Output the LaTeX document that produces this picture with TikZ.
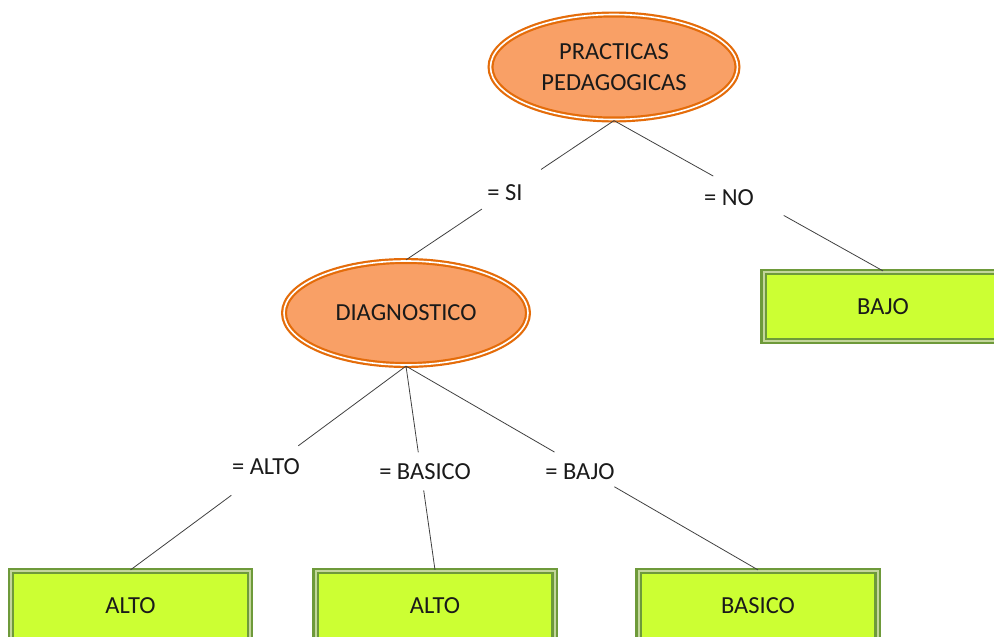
\documentclass[tikz,border=0pt]{standalone}
\usepackage{fontspec}
\setmainfont{Carlito}
\usetikzlibrary{shapes.geometric,calc}
\definecolor{ellfill}{HTML}{F9A066}
\definecolor{elldraw}{HTML}{E46C0A}
\definecolor{boxfill}{HTML}{CCFF33}
\definecolor{boxdraw}{HTML}{6E9A3A}
\definecolor{boxgap}{HTML}{C3D69B}
\definecolor{txt}{HTML}{1A1A1A}
\begin{document}
\begin{tikzpicture}[x=1pt,y=-1pt,
  every node/.style={font=\fontsize{24.5}{31}\selectfont, text=txt},
  ellnode/.style={ellipse, fill=ellfill, draw=elldraw, line width=2.2pt, double=white, double distance=1.6pt, inner sep=0pt, align=center},
  boxnode/.style={rectangle, fill=boxfill, draw=boxdraw, line width=2.2pt, double=boxgap, double distance=2pt, minimum width=239pt, minimum height=69pt, inner sep=0pt},
  conn/.style={draw=black!75, line width=0.8pt},
  lbl/.style={inner sep=0pt}]
\useasboundingbox (0,0) rectangle (994,637);
\clip (0,0) rectangle (994,637);
\node[ellnode, minimum width=247pt, minimum height=105pt] (p) at (614,67) {PRACTICAS\\PEDAGOGICAS};
\node[ellnode, minimum width=244pt, minimum height=104pt] (d) at (406,313) {DIAGNOSTICO};
\node[boxnode] (bajo) at (883,306.5) {BAJO};
\node[boxnode] (alto1) at (130.5,605.5) {ALTO};
\node[boxnode] (alto2) at (435,605.5) {ALTO};
\node[boxnode] (basico) at (758,605.5) {BASICO};
% labels
\node[lbl] (lsi) at (505,193) {= SI};
\node[lbl] (lno) at (729,198) {= NO};
\node[lbl] (lalto) at (266,467) {= ALTO};
\node[lbl] (lbasico) at (425,472) {= BASICO};
\node[lbl] (lbajo) at (580,472) {= BAJO};
% connectors
\draw[conn] (p.south) -- ($(p.south)!0.351!(d.north)$);
\draw[conn] ($(p.south)!0.635!(d.north)$) -- (d.north);
\draw[conn] (p.south) -- ($(p.south)!0.369!(bajo.north)$);
\draw[conn] ($(p.south)!0.631!(bajo.north)$) -- (bajo.north);
\draw[conn] (d.south) -- ($(d.south)!0.391!(alto1.north)$);
\draw[conn] ($(d.south)!0.634!(alto1.north)$) -- (alto1.north);
\draw[conn] (d.south) -- ($(d.south)!0.423!(alto2.north)$);
\draw[conn] ($(d.south)!0.61!(alto2.north)$) -- (alto2.north);
\draw[conn] (d.south) -- ($(d.south)!0.422!(basico.north)$);
\draw[conn] ($(d.south)!0.592!(basico.north)$) -- (basico.north);
\end{tikzpicture}
\end{document}
